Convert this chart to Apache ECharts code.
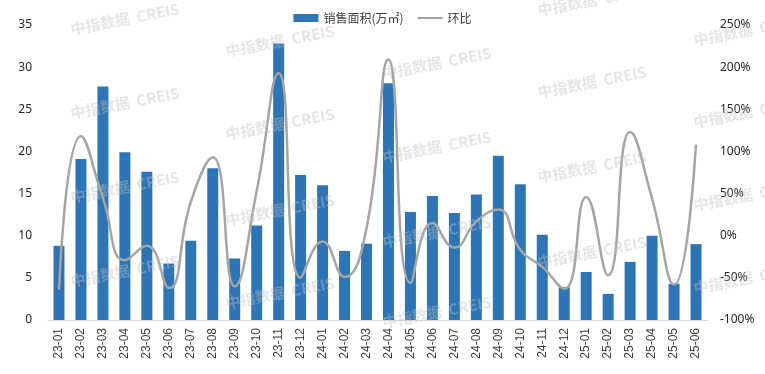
<!DOCTYPE html>
<html>
<head>
<meta charset="utf-8">
<script src="https://cdn.jsdelivr.net/npm/echarts@6/dist/echarts.min.js"></script>
<style>html,body{margin:0;padding:0;background:#fff}#c{width:765px;height:374px}</style>
</head>
<body>
<div id="c"></div>
<script>
const categories = ['23-01','23-02','23-03','23-04','23-05','23-06','23-07','23-08','23-09','23-10','23-11','23-12',
  '24-01','24-02','24-03','24-04','24-05','24-06','24-07','24-08','24-09','24-10','24-11','24-12',
  '25-01','25-02','25-03','25-04','25-05','25-06'];
const salesArea = [8.8,19.1,27.7,19.9,17.6,6.7,9.4,18.0,7.3,11.2,32.8,17.2,
  16.0,8.2,9.05,28.1,12.8,14.7,12.7,14.9,19.5,16.1,10.1,3.9,
  5.7,3.1,6.9,10.0,4.3,9.0];
const momChange = [-64,118,45,-29,-12,-62,40,93,-60,53,193,-50,
  -7,-49,9,209,-56,15,-14,17,31,-17,-37,-63,
  46,-47,123,44,-58,108];
const leftTicks = {min:0,max:35,interval:5};
const rightTicks = {min:-100,max:250,interval:50};

const wmPositions = [[125,19],[125,103],[125,187],[125,271],
  [280,41],[280,124],[280,210],[280,293],
  [437,63],[437,147],[437,232],[437,312],
  [592,0],[592,82],[592,167],[592,252],
  [748,30],[748,112],[748,195],[748,278]];

const chart = echarts.init(document.getElementById('c'));
const font = "'Noto Sans','Noto Sans CJK SC',sans-serif";
chart.setOption({
  animation:false,
  textStyle:{fontFamily:font},
  legend:{
    top:7, left:'center', itemGap:14,
    textStyle:{fontSize:12,color:'#404040',fontFamily:"'Noto Sans CJK SC',sans-serif"},
    data:[
      {name:'销售面积(万㎡)', icon:'rect', itemStyle:{color:'#2e75b6'}},
      {name:'环比', icon:'path://M0,4L25,4L25,6L0,6Z', itemStyle:{color:'#a5a5a5'}}
    ],
    itemWidth:25, itemHeight:8
  },
  grid:{left:48,right:58,top:25,bottom:54},
  xAxis:{
    type:'category', data:categories,
    axisLine:{lineStyle:{color:'#d9d9d9'}},
    axisTick:{show:false},
    axisLabel:{rotate:90,interval:0,fontSize:12,color:'#404040',margin:8,fontFamily:"'Liberation Sans',sans-serif"}
  },
  yAxis:[
    {type:'value',min:leftTicks.min,max:leftTicks.max,interval:leftTicks.interval,
      splitLine:{show:false},axisLine:{show:false},axisTick:{show:false},
      axisLabel:{fontSize:12,color:'#262626',margin:16}},
    {type:'value',min:rightTicks.min,max:rightTicks.max,interval:rightTicks.interval,
      splitLine:{show:false},axisLine:{show:false},axisTick:{show:false},
      axisLabel:{fontSize:12,color:'#262626',margin:13,formatter:'{value}%'}}
  ],
  series:[
    {name:'销售面积(万㎡)',type:'bar',data:salesArea,barWidth:'50%',
      itemStyle:{color:'#2e75b6'},z:2},
    {name:'环比',type:'line',yAxisIndex:1,data:momChange,smooth:0.5,
      showSymbol:false,symbol:'none',lineStyle:{color:'#a5a5a5',width:2.5},itemStyle:{color:'#a5a5a5'},z:3}
  ],
  graphic: wmPositions.map(p=>({
    type:'text', x:p[0], y:p[1], rotation:0.19, z:100, silent:true,
    style:{text:'中指数据  CREIS', fill:'rgba(190,190,190,0.4)',
      font:"bold 15px 'Noto Sans CJK SC', sans-serif", align:'center', verticalAlign:'middle'}
  }))
});
</script>
</body>
</html>
